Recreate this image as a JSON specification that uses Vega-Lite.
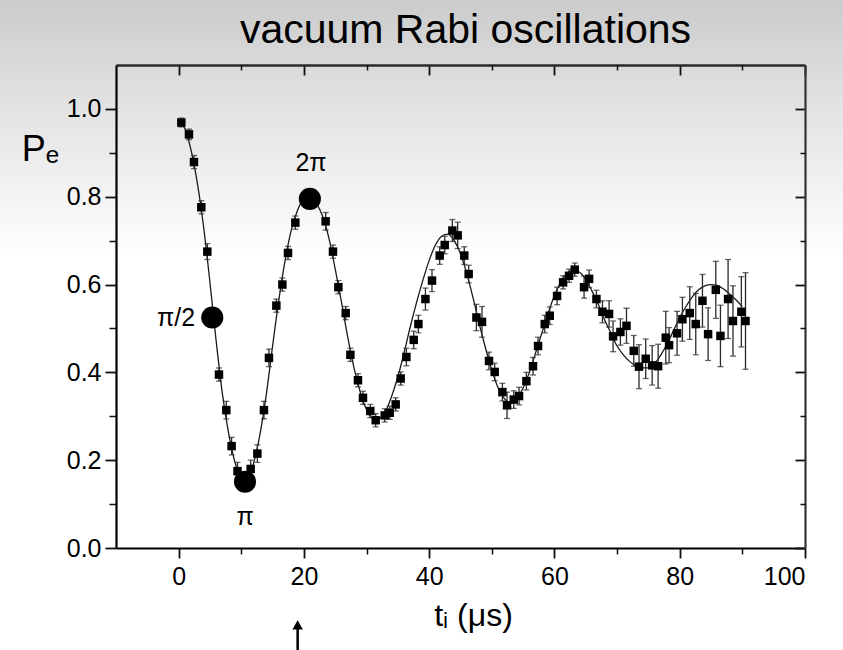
{
  "$schema": "https://vega.github.io/schema/vega-lite/v6.json",
  "width": 689,
  "height": 483,
  "autosize": {"type": "none"},
  "padding": {"left": 116, "top": 65, "right": 38, "bottom": 102},
  "background": "#ffffff",
  "config": {
    "view": {"stroke": null},
    "font": "Liberation Sans",
    "axis": {"zindex": 2, "grid": false, "labelFont": "Liberation Sans", "titleFont": "Liberation Sans", "labelColor": "#000000", "titleColor": "#000000", "titleFontWeight": "normal", "tickColor": "#111111", "domainColor": "#111111"}
  },
  "title": {"text": "vacuum Rabi oscillations", "fontSize": 41, "font": "Liberation Sans", "fontWeight": "normal", "color": "#000000", "anchor": "middle", "frame": "group", "offset": -75, "dx": 5, "zindex": 3},
  "datasets": {
    "pts": [
      {"t": 0.43, "p": 0.969, "err": 0.01},
      {"t": 1.65, "p": 0.942, "err": 0.012},
      {"t": 2.45, "p": 0.879, "err": 0.015},
      {"t": 3.62, "p": 0.776, "err": 0.015},
      {"t": 4.58, "p": 0.675, "err": 0.018},
      {"t": 6.44, "p": 0.395, "err": 0.015},
      {"t": 7.61, "p": 0.314, "err": 0.02},
      {"t": 8.46, "p": 0.232, "err": 0.02},
      {"t": 9.4, "p": 0.175, "err": 0.02},
      {"t": 11.5, "p": 0.18, "err": 0.02},
      {"t": 12.57, "p": 0.215, "err": 0.02},
      {"t": 13.62, "p": 0.314, "err": 0.02},
      {"t": 14.42, "p": 0.433, "err": 0.02},
      {"t": 15.6, "p": 0.552, "err": 0.015},
      {"t": 16.56, "p": 0.6, "err": 0.015},
      {"t": 17.46, "p": 0.672, "err": 0.015},
      {"t": 18.63, "p": 0.741, "err": 0.015},
      {"t": 23.47, "p": 0.744, "err": 0.02},
      {"t": 24.64, "p": 0.675, "err": 0.015},
      {"t": 25.5, "p": 0.594, "err": 0.015},
      {"t": 26.67, "p": 0.535, "err": 0.015},
      {"t": 27.42, "p": 0.44, "err": 0.015},
      {"t": 28.63, "p": 0.382, "err": 0.015},
      {"t": 29.43, "p": 0.342, "err": 0.015},
      {"t": 30.6, "p": 0.312, "err": 0.015},
      {"t": 31.46, "p": 0.291, "err": 0.015},
      {"t": 32.9, "p": 0.302, "err": 0.015},
      {"t": 33.7, "p": 0.308, "err": 0.015},
      {"t": 34.65, "p": 0.327, "err": 0.015},
      {"t": 35.45, "p": 0.386, "err": 0.015},
      {"t": 36.36, "p": 0.435, "err": 0.02},
      {"t": 37.53, "p": 0.474, "err": 0.02},
      {"t": 38.28, "p": 0.51, "err": 0.02},
      {"t": 39.4, "p": 0.567, "err": 0.025},
      {"t": 40.45, "p": 0.609, "err": 0.025},
      {"t": 41.68, "p": 0.666, "err": 0.02},
      {"t": 42.48, "p": 0.69, "err": 0.02},
      {"t": 43.7, "p": 0.723, "err": 0.025},
      {"t": 44.55, "p": 0.712, "err": 0.03},
      {"t": 45.6, "p": 0.666, "err": 0.02},
      {"t": 46.3, "p": 0.624, "err": 0.02},
      {"t": 47.54, "p": 0.525, "err": 0.03},
      {"t": 48.43, "p": 0.515, "err": 0.035},
      {"t": 49.55, "p": 0.426, "err": 0.02},
      {"t": 50.46, "p": 0.401, "err": 0.02},
      {"t": 51.69, "p": 0.355, "err": 0.02},
      {"t": 52.43, "p": 0.325, "err": 0.03},
      {"t": 53.5, "p": 0.338, "err": 0.02},
      {"t": 54.35, "p": 0.346, "err": 0.02},
      {"t": 55.52, "p": 0.38, "err": 0.02},
      {"t": 56.58, "p": 0.414, "err": 0.02},
      {"t": 57.38, "p": 0.46, "err": 0.02},
      {"t": 58.45, "p": 0.51, "err": 0.02},
      {"t": 59.25, "p": 0.529, "err": 0.02},
      {"t": 60.42, "p": 0.574, "err": 0.02},
      {"t": 61.38, "p": 0.605, "err": 0.015},
      {"t": 62.33, "p": 0.62, "err": 0.015},
      {"t": 63.24, "p": 0.634, "err": 0.015},
      {"t": 64.73, "p": 0.594, "err": 0.025},
      {"t": 65.53, "p": 0.613, "err": 0.02},
      {"t": 66.7, "p": 0.567, "err": 0.02},
      {"t": 67.66, "p": 0.538, "err": 0.025},
      {"t": 68.72, "p": 0.533, "err": 0.03},
      {"t": 69.36, "p": 0.482, "err": 0.035},
      {"t": 70.53, "p": 0.492, "err": 0.03},
      {"t": 71.5, "p": 0.506, "err": 0.04},
      {"t": 72.66, "p": 0.449, "err": 0.035},
      {"t": 73.5, "p": 0.413, "err": 0.05},
      {"t": 74.57, "p": 0.431, "err": 0.045},
      {"t": 75.6, "p": 0.416, "err": 0.045},
      {"t": 76.55, "p": 0.414, "err": 0.05},
      {"t": 77.77, "p": 0.479, "err": 0.06},
      {"t": 78.3, "p": 0.462, "err": 0.04},
      {"t": 79.58, "p": 0.489, "err": 0.05},
      {"t": 80.43, "p": 0.521, "err": 0.05},
      {"t": 81.6, "p": 0.535, "err": 0.06},
      {"t": 82.56, "p": 0.51, "err": 0.07},
      {"t": 83.63, "p": 0.563, "err": 0.06},
      {"t": 84.53, "p": 0.487, "err": 0.06},
      {"t": 85.76, "p": 0.588, "err": 0.065},
      {"t": 86.5, "p": 0.483, "err": 0.07},
      {"t": 87.72, "p": 0.567, "err": 0.09},
      {"t": 88.5, "p": 0.517, "err": 0.08},
      {"t": 89.84, "p": 0.538, "err": 0.08},
      {"t": 90.5, "p": 0.517, "err": 0.11}
    ],
    "fit": [
      {"t": 0.3, "p": 0.975}, {"t": 1, "p": 0.955}, {"t": 2, "p": 0.905}, {"t": 3, "p": 0.83}, {"t": 4, "p": 0.73},
      {"t": 5, "p": 0.605}, {"t": 6, "p": 0.47}, {"t": 7, "p": 0.35}, {"t": 8, "p": 0.26}, {"t": 9, "p": 0.195},
      {"t": 10, "p": 0.16}, {"t": 11, "p": 0.16}, {"t": 12, "p": 0.195}, {"t": 13, "p": 0.26}, {"t": 14, "p": 0.35},
      {"t": 15, "p": 0.46}, {"t": 16, "p": 0.565}, {"t": 17, "p": 0.655}, {"t": 18, "p": 0.725}, {"t": 19, "p": 0.77},
      {"t": 20, "p": 0.795}, {"t": 21, "p": 0.8}, {"t": 22, "p": 0.785}, {"t": 23, "p": 0.755}, {"t": 24, "p": 0.705},
      {"t": 25, "p": 0.635}, {"t": 26, "p": 0.56}, {"t": 27, "p": 0.48}, {"t": 28, "p": 0.41}, {"t": 29, "p": 0.355},
      {"t": 30, "p": 0.315}, {"t": 31, "p": 0.295}, {"t": 32, "p": 0.295}, {"t": 33, "p": 0.31}, {"t": 34, "p": 0.345},
      {"t": 35, "p": 0.39}, {"t": 36, "p": 0.445}, {"t": 37, "p": 0.505}, {"t": 38, "p": 0.56}, {"t": 39, "p": 0.61},
      {"t": 40, "p": 0.655}, {"t": 41, "p": 0.69}, {"t": 42, "p": 0.71}, {"t": 43, "p": 0.715}, {"t": 44, "p": 0.7},
      {"t": 45, "p": 0.67}, {"t": 46, "p": 0.625}, {"t": 47, "p": 0.57}, {"t": 48, "p": 0.51}, {"t": 49, "p": 0.455},
      {"t": 50, "p": 0.405}, {"t": 51, "p": 0.365}, {"t": 52, "p": 0.34}, {"t": 53, "p": 0.33}, {"t": 54, "p": 0.34},
      {"t": 55, "p": 0.365}, {"t": 56, "p": 0.4}, {"t": 57, "p": 0.445}, {"t": 58, "p": 0.49}, {"t": 59, "p": 0.535},
      {"t": 60, "p": 0.575}, {"t": 61, "p": 0.605}, {"t": 62, "p": 0.625}, {"t": 63, "p": 0.632}, {"t": 64, "p": 0.628},
      {"t": 65, "p": 0.612}, {"t": 66, "p": 0.585}, {"t": 67, "p": 0.555}, {"t": 68, "p": 0.52}, {"t": 69, "p": 0.49},
      {"t": 70, "p": 0.46}, {"t": 71, "p": 0.44}, {"t": 72, "p": 0.425}, {"t": 73, "p": 0.415}, {"t": 74, "p": 0.41},
      {"t": 75, "p": 0.41}, {"t": 76, "p": 0.42}, {"t": 77, "p": 0.44}, {"t": 78, "p": 0.465}, {"t": 79, "p": 0.495},
      {"t": 80, "p": 0.525}, {"t": 81, "p": 0.55}, {"t": 82, "p": 0.572}, {"t": 83, "p": 0.588}, {"t": 84, "p": 0.597},
      {"t": 85, "p": 0.6}, {"t": 86, "p": 0.598}, {"t": 87, "p": 0.59}, {"t": 88, "p": 0.578}, {"t": 89, "p": 0.565},
      {"t": 90, "p": 0.55}
    ],
    "big": [
      {"t": 5.37, "p": 0.525},
      {"t": 10.6, "p": 0.151},
      {"t": 20.95, "p": 0.795}
    ],
    "notes": [
      {"t": -0.4, "p": 0.524, "label": "π/2"},
      {"t": 10.6, "p": 0.071, "label": "π"},
      {"t": 21.13, "p": 0.877, "label": "2π"}
    ],
    "arrow": [
      {"t": 19, "top": -0.175, "bottom": -0.26}
    ]
  },
  "resolve": {"axis": {"x": "independent", "y": "independent"}},
  "layer": [
    {
      "data": {"values": [{}]},
      "mark": {"type": "rect", "clip": false, "strokeWidth": 0, "fill": {"gradient": "linear", "x1": 0, "y1": 0, "x2": 0, "y2": 1, "stops": [{"offset": 0, "color": "#c6c6c6"}, {"offset": 0.45, "color": "#e2e2e2"}, {"offset": 1, "color": "#ffffff"}]}},
      "encoding": {
        "x": {"datum": -30, "type": "quantitative", "scale": {"domain": [-10, 100], "nice": false, "zero": false}, "axis": null},
        "x2": {"datum": 110},
        "y": {"datum": 1.3, "type": "quantitative", "scale": {"domain": [0, 1.1], "nice": false, "zero": false}, "axis": null},
        "y2": {"datum": 0.66}
      }
    },
    {
      "data": {"name": "fit"},
      "mark": {"type": "line", "color": "#1a1a1a", "strokeWidth": 1.3, "interpolate": "monotone"},
      "encoding": {
        "x": {"field": "t", "type": "quantitative", "scale": {"domain": [-10, 100], "nice": false, "zero": false},
          "axis": {"orient": "bottom", "zindex": 2, "values": [10, 30, 50, 70, 90], "tickSize": 6, "tickWidth": 1.5, "labels": false, "domain": false, "title": null}},
        "y": {"field": "p", "type": "quantitative", "scale": {"domain": [0, 1.1], "nice": false, "zero": false},
          "axis": {"orient": "left", "zindex": 2, "values": [0.1, 0.3, 0.5, 0.7, 0.9], "tickSize": 7, "tickWidth": 1.5, "labels": false, "domain": false, "title": null}}
      }
    },
    {
      "data": {"name": "pts"},
      "mark": {"type": "errorbar", "ticks": true, "size": 6, "thickness": 1.3, "color": "#2a2a2a"},
      "encoding": {
        "x": {"field": "t", "type": "quantitative", "scale": {"domain": [-10, 100], "nice": false, "zero": false}, "axis": null},
        "y": {"field": "p", "type": "quantitative", "scale": {"domain": [0, 1.1], "nice": false, "zero": false}, "axis": null},
        "yError": {"field": "err"}
      }
    },
    {
      "data": {"name": "pts"},
      "mark": {"type": "point", "shape": "square", "filled": true, "color": "#000000", "size": 72, "opacity": 1},
      "encoding": {
        "x": {"field": "t", "type": "quantitative", "scale": {"domain": [-10, 100], "nice": false, "zero": false},
          "axis": {"orient": "bottom", "zindex": 2, "values": [0, 20, 40, 60, 80, 100], "tickSize": 10, "tickWidth": 1.8, "domainWidth": 2.2, "domainColor": "#000000", "labelFontSize": 25, "labelPadding": 6, "title": "tᵢ (μs)", "titleFontSize": 32, "titleX": 357, "titleY": 77, "titleBaseline": "alphabetic", "titleAlign": "center"}},
        "y": {"field": "p", "type": "quantitative", "scale": {"domain": [0, 1.1], "nice": false, "zero": false},
          "axis": {"orient": "left", "zindex": 2, "values": [0, 0.2, 0.4, 0.6, 0.8, 1.0], "format": ".1f", "tickSize": 11, "tickWidth": 1.8, "domainWidth": 2.2, "domainColor": "#000000", "labelFontSize": 25, "labelPadding": 4, "labelBaseline": "middle", "title": "Pₑ", "titleFontSize": 36, "titleAngle": 0, "titleX": -76, "titleY": 95, "titleAlign": "center", "titleBaseline": "alphabetic"}}
      }
    },
    {
      "data": {"name": "big"},
      "mark": {"type": "point", "shape": "circle", "filled": true, "color": "#000000", "size": 490, "opacity": 1},
      "encoding": {
        "x": {"field": "t", "type": "quantitative", "scale": {"domain": [-10, 100], "nice": false, "zero": false},
          "axis": {"orient": "top", "zindex": 2, "values": [0, 20, 40, 60, 80, 100], "tickSize": -10, "tickWidth": 1.8, "domainWidth": 2.5, "domainColor": "#2a2a2a", "labels": false, "title": null}},
        "y": {"field": "p", "type": "quantitative", "scale": {"domain": [0, 1.1], "nice": false, "zero": false},
          "axis": {"orient": "right", "zindex": 2, "values": [0, 0.2, 0.4, 0.6, 0.8, 1.0], "tickSize": -10, "tickWidth": 1.8, "domainWidth": 2.2, "domainColor": "#333333", "labels": false, "title": null}}
      }
    },
    {
      "data": {"name": "notes"},
      "mark": {"type": "text", "fontSize": 25, "font": "Liberation Sans", "color": "#000000", "baseline": "middle", "align": "center", "clip": false},
      "encoding": {
        "x": {"field": "t", "type": "quantitative", "scale": {"domain": [-10, 100], "nice": false, "zero": false},
          "axis": {"orient": "top", "zindex": 2, "values": [10, 30, 50, 70, 90], "tickSize": -5, "tickWidth": 1.5, "domain": false, "labels": false, "title": null}},
        "y": {"field": "p", "type": "quantitative", "scale": {"domain": [0, 1.1], "nice": false, "zero": false},
          "axis": {"orient": "right", "zindex": 2, "values": [0.1, 0.3, 0.5, 0.7, 0.9], "tickSize": -5, "tickWidth": 1.5, "domain": false, "labels": false, "title": null}},
        "text": {"field": "label"}
      }
    },
    {
      "data": {"name": "arrow"},
      "mark": {"type": "rule", "color": "#000000", "strokeWidth": 2.5, "clip": false},
      "encoding": {
        "x": {"field": "t", "type": "quantitative", "scale": {"domain": [-10, 100], "nice": false, "zero": false}, "axis": null},
        "y": {"field": "top", "type": "quantitative", "scale": {"domain": [0, 1.1], "nice": false, "zero": false}, "axis": null},
        "y2": {"field": "bottom"}
      }
    },
    {
      "data": {"name": "arrow"},
      "mark": {"type": "point", "shape": "triangle-up", "filled": true, "color": "#000000", "size": 110, "opacity": 1, "clip": false},
      "encoding": {
        "x": {"field": "t", "type": "quantitative", "scale": {"domain": [-10, 100], "nice": false, "zero": false}, "axis": null},
        "y": {"field": "top", "type": "quantitative", "scale": {"domain": [0, 1.1], "nice": false, "zero": false}, "axis": null}
      }
    }
  ]
}
